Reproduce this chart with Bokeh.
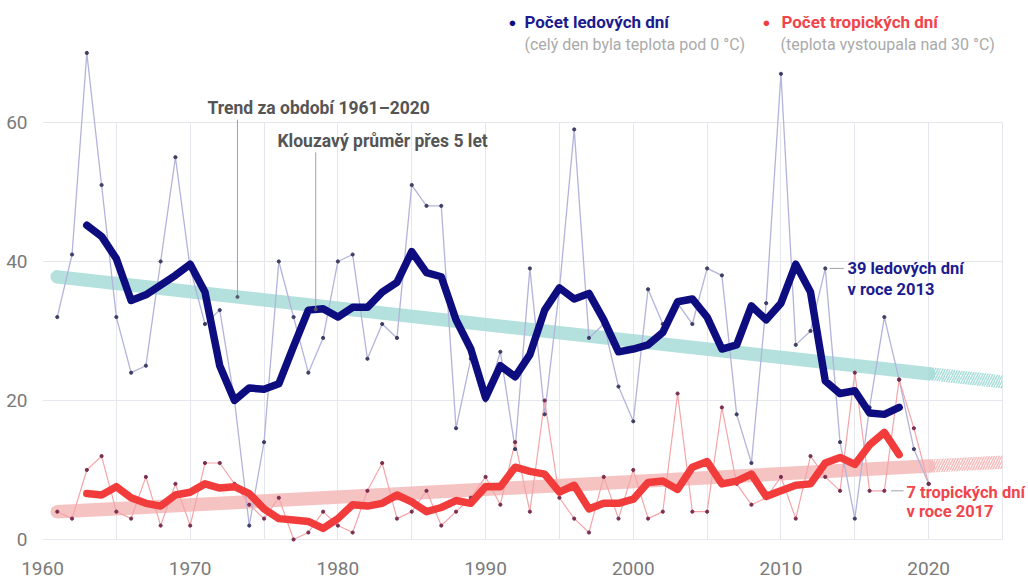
import numpy as np
from bokeh.plotting import figure
from bokeh.models import Label, FixedTicker
from bokeh.embed import file_html
from bokeh.resources import INLINE

# ---------------- data ----------------
years = list(range(1961, 2021))
ice_days = [32, 41, 70, 51, 32, 24, 25, 40, 55, 39,
            31, 33, 20, 2, 14, 40, 32, 24, 29, 40,
            41, 26, 31, 29, 51, 48, 48, 16, 26, 20,
            27, 13, 39, 18, 36, 59, 29, 31, 22, 17,
            36, 31, 34, 31, 39, 38, 18, 11, 34, 67,
            28, 30, 39, 14, 3, 19, 32, 23, 13, 8]
tropical_days = [4, 3, 10, 12, 4, 3, 9, 2, 8, 2,
                 11, 11, 8, 5, 3, 6, 0, 1, 4, 2,
                 1, 7, 11, 3, 4, 7, 2, 4, 6, 9,
                 5, 14, 4, 20, 6, 3, 1, 9, 3, 10,
                 3, 4, 21, 4, 4, 19, 8, 5, 6, 9,
                 3, 12, 9, 7, 24, 7, 7, 23, 16, 8]
x_ticks = [1960, 1970, 1980, 1990, 2000, 2010, 2020]
y_ticks = [0, 20, 40, 60]
x_grid = list(range(1960, 2030, 5))
trend_end = 2020
trend_extension = 2025
ma_window = 5

ice_label = "Počet ledových dní"
ice_sub = "(celý den byla teplota pod 0 °C)"
trop_label = "Počet tropických dní"
trop_sub = "(teplota vystoupala nad 30 °C)"

# ---------------- derived ----------------
yrs = np.array(years, dtype=float)
ice = np.array(ice_days, dtype=float)
trop = np.array(tropical_days, dtype=float)
k = np.ones(ma_window) / ma_window
ma_years = yrs[ma_window // 2: len(yrs) - ma_window // 2]
ice_ma = np.convolve(ice, k, mode="valid")
trop_ma = np.convolve(trop, k, mode="valid")
ice_fit = np.polyfit(yrs, ice, 1)
trop_fit = np.polyfit(yrs, trop, 1)

NAVY = "#0d0d80"
NAVY_TXT = "#1c1c8e"
RED = "#f23c3c"
RED_TXT = "#f0454c"
TEAL = "#a7dcd8"
PINK = "#f5b9b9"
FONT = "Roboto"

p = figure(width=1028, height=579, x_range=(1960, 2026.76), y_range=(-2.02, 77.55),
           output_backend="svg", toolbar_location=None,
           min_border_left=42, min_border_right=0, min_border_top=0, min_border_bottom=26)
p.outline_line_color = None
p.background_fill_color = "white"
p.border_fill_color = "white"

# grid
p.xgrid.ticker = FixedTicker(ticks=x_grid)
p.ygrid.ticker = FixedTicker(ticks=y_ticks)
for g in (p.xgrid, p.ygrid):
    g.grid_line_color = "#e6e6ee"
    g.grid_line_width = 1
try:
    p.xgrid.cross_bounds = (0, 60)
    p.ygrid.cross_bounds = (1960, 2025)
except Exception:
    pass

for ax in (p.xaxis, p.yaxis):
    ax.axis_line_color = None
    ax.major_tick_line_color = None
    ax.minor_tick_line_color = None
    ax.major_label_text_font = FONT
    ax.major_label_text_font_size = "19px"
    ax.major_label_text_color = "#7a7a7a"
p.xaxis.ticker = FixedTicker(ticks=x_ticks)
p.yaxis.ticker = FixedTicker(ticks=y_ticks)
p.xaxis.major_label_standoff = 2
p.yaxis.major_label_standoff = 9

# trend bands
half_w = 0.95
for fit, col in ((ice_fit, TEAL), (trop_fit, PINK)):
    tx = np.array([years[0], trend_end], dtype=float)
    p.line(tx, np.polyval(fit, tx), line_width=13.5, line_color=col, line_alpha=0.85,
           line_cap="round")
    ex = np.array([trend_end, trend_extension], dtype=float)
    ey = np.polyval(fit, ex)
    p.varea(x=ex, y1=ey - half_w, y2=ey + half_w, fill_alpha=0,
            hatch_pattern="/", hatch_color=col, hatch_weight=1.6, hatch_scale=5,
            hatch_alpha=0.95)

# thin yearly lines
p.line(yrs, ice, line_color="#b3b3dc", line_width=1.3)
p.line(yrs, trop, line_color="#f5a5a8", line_width=1.2)
p.scatter(yrs, ice, size=3.2, color="#3e3e66")
p.scatter(yrs, trop, size=3.2, color="#7a2e50")

# moving averages
p.line(ma_years, ice_ma, line_color=NAVY, line_width=7.5, line_cap="round", line_join="round")
p.line(ma_years, trop_ma, line_color=RED, line_width=7.5, line_cap="round", line_join="round")

# annotation leaders
lead_col = "#a0a0a8"
t_x = 1973.2
p.segment(x0=[t_x], y0=[np.polyval(ice_fit, t_x)], x1=[t_x], y1=[60.4],
          line_color=lead_col, line_width=1)
m_x = 1978.5
m_y = float(np.interp(m_x, ma_years, ice_ma))
p.segment(x0=[m_x], y0=[m_y], x1=[m_x], y1=[55.7], line_color=lead_col, line_width=1)
p.scatter([t_x, m_x], [np.polyval(ice_fit, t_x), m_y], size=3, color="#55556a")

i13 = years.index(2013)
t17 = years.index(2017)
p.segment(x0=[2013.3], y0=[ice_days[i13]], x1=[2014.25], y1=[ice_days[i13]],
          line_color=lead_col, line_width=1)
p.segment(x0=[2017.45], y0=[tropical_days[t17]], x1=[2018.3], y1=[tropical_days[t17]],
          line_color=lead_col, line_width=1)


def lab(x, y, text, color, size, bold=False, align="left"):
    p.add_layout(Label(x=x, y=y, text=text, text_color=color, text_font=FONT,
                       text_font_size=size, text_font_style="bold" if bold else "normal",
                       text_baseline="middle", text_align=align))


lab(1971.17, 62.1, "Trend za období 1961–2020", "#555555", "17.5px", True)
lab(1975.91, 57.4, "Klouzavý průměr přes 5 let", "#555555", "17.5px", True)
lab(2014.5, 39.0, f"{ice_days[i13]} ledových dní", NAVY_TXT, "16.5px", True)
lab(2014.5, 36.0, "v roce 2013", NAVY_TXT, "16.5px", True)
lab(2018.5, 6.8, f"{tropical_days[t17]} tropických dní", RED_TXT, "16.5px", True)
lab(2018.5, 4.0, "v roce 2017", RED_TXT, "16.5px", True)

# legend
lab(1991.82, 74.4, "●", NAVY, "13px", False, "center")
lab(1992.63, 74.4, ice_label, NAVY_TXT, "17px", True)
lab(1992.63, 71.2, ice_sub, "#aaaaaa", "16px")
lab(2009.02, 74.4, "●", RED, "13px", False, "center")
lab(2010.03, 74.4, trop_label, RED_TXT, "17px", True)
lab(2009.97, 71.2, trop_sub, "#aaaaaa", "16px")

open("out.html", "w").write(file_html(p, INLINE))
